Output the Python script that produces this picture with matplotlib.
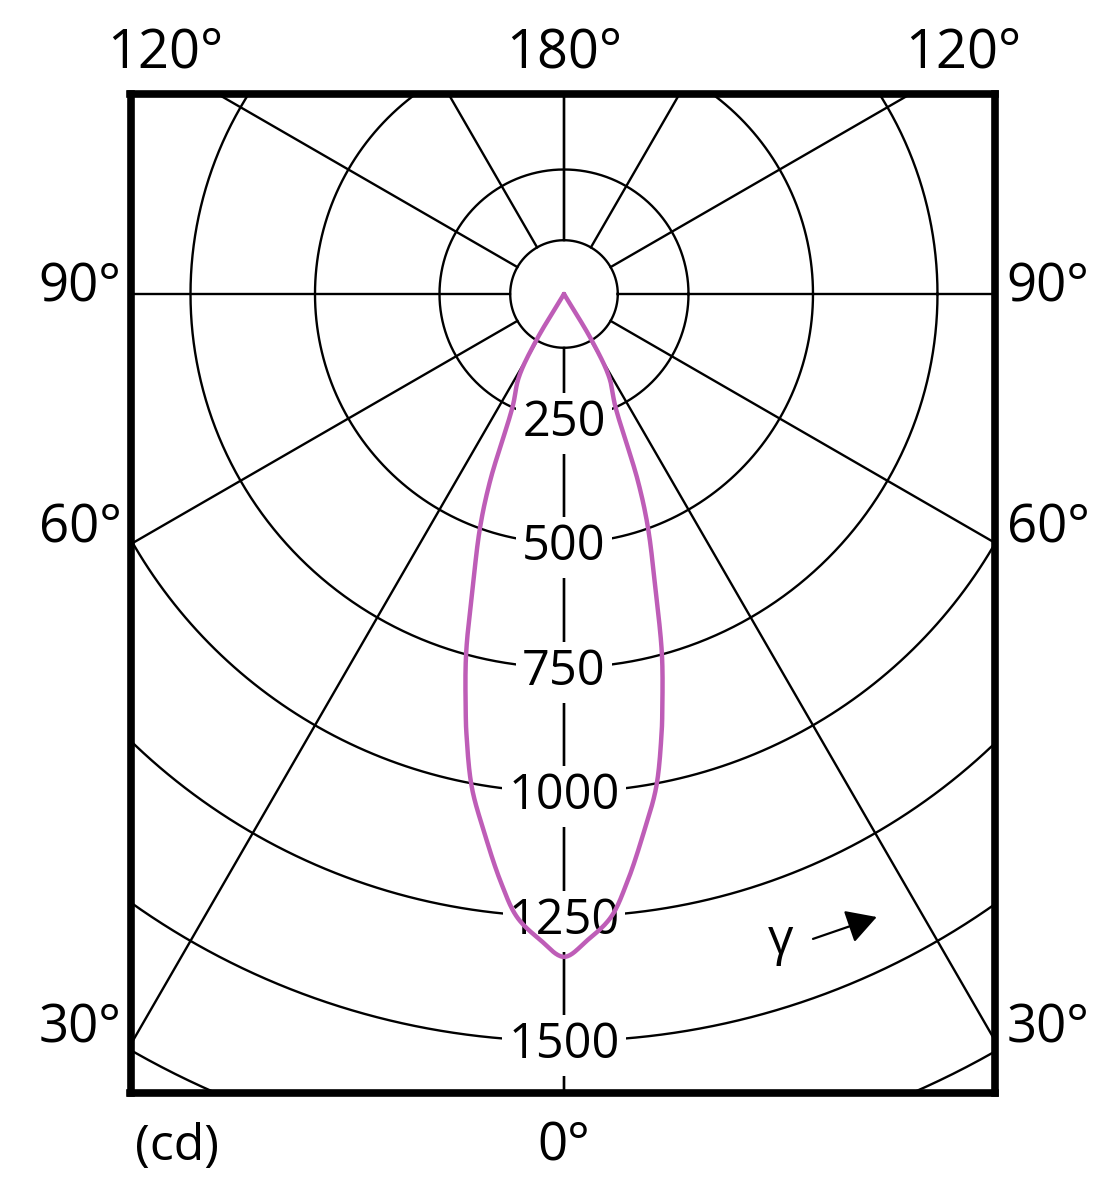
import numpy as np
import matplotlib.pyplot as plt

# luminous intensity distribution (symmetric lobe), gamma in degrees, intensity in cd
gamma_deg = [0, 2.1, 4.3, 6.1, 8.4, 10.6, 12.5, 13.3, 15.2, 17.3, 19.8, 21.6, 24.5, 28.5, 30.9, 32.0]
intensity_cd = [1331, 1298, 1255, 1189, 1094, 1007, 905, 858, 750, 616, 497, 402, 249, 190, 108, 0]

ring_values = [250, 500, 750, 1000, 1250, 1500, 1750]
ring_labels = ["250", "500", "750", "1000", "1250", "1500"]
spoke_angles = [0, 30, 60, 90, 120, 150, 180]
hub_radius = 108

side_labels = ["90°", "60°", "30°"]
side_label_y = [-16, -498, -1502]
top_labels = ["120°", "180°", "120°"]
top_label_x = [-801, 0, 801]

font = ["Open Sans", "DejaVu Sans"]
grid_kw = dict(color="black", lw=1.7, zorder=1)


def smooth(pts, n=20, alpha=0.5):
    # centripetal catmull-rom through the read points, ends kept as they are
    p = np.vstack([2 * pts[0] - pts[1], pts, 2 * pts[-1] - pts[-2]])
    out = []
    for k in range(1, len(p) - 2):
        p0, p1, p2, p3 = p[k - 1], p[k], p[k + 1], p[k + 2]
        t0 = 0.0
        t1 = t0 + np.linalg.norm(p1 - p0) ** alpha
        t2 = t1 + np.linalg.norm(p2 - p1) ** alpha
        t3 = t2 + np.linalg.norm(p3 - p2) ** alpha
        t = np.linspace(t1, t2, n, endpoint=False)[:, None]
        a1 = (t1 - t) / (t1 - t0) * p0 + (t - t0) / (t1 - t0) * p1
        a2 = (t2 - t) / (t2 - t1) * p1 + (t - t1) / (t2 - t1) * p2
        a3 = (t3 - t) / (t3 - t2) * p2 + (t - t2) / (t3 - t2) * p3
        b1 = (t2 - t) / (t2 - t0) * a1 + (t - t0) / (t2 - t0) * a2
        b2 = (t3 - t) / (t3 - t1) * a2 + (t - t1) / (t3 - t1) * a3
        out.append((t2 - t) / (t2 - t1) * b1 + (t - t1) / (t2 - t1) * b2)
    out.append(pts[-1][None])
    return np.vstack(out)


fig = plt.figure(figsize=(11.15, 12), dpi=100)
ax = fig.add_axes([130.5 / 1115, 107.5 / 1200, 864.5 / 1115, 999 / 1200])
ax.set_xlim(-870.5, 865.5)
ax.set_ylim(-1603.4, 402.6)
ax.set_xticks([])
ax.set_yticks([])
for sp in ax.spines.values():
    sp.set_linewidth(5.5)
    sp.set_zorder(10)

# rings
t = np.linspace(0, 2 * np.pi, 721)
for r in [hub_radius] + ring_values:
    ax.plot(r * np.cos(t), r * np.sin(t), **grid_kw)

# spokes, gamma measured from the downward axis
for a in spoke_angles:
    for s in (-1, 1):
        g = np.radians(a) * s
        rr = np.array([hub_radius, 2500])
        ax.plot(rr * np.sin(g), -rr * np.cos(g), **grid_kw)

# intensity labels along the 0 deg axis
for r, lab in zip(ring_values, ring_labels):
    ax.text(0, -r - 35, lab, ha="center", va="baseline", fontsize=35, family=font,
            zorder=4, bbox=dict(boxstyle="square,pad=0.12", fc="white", ec="none"))

# the curve (mirrored for the other half plane)
g = np.radians(np.array(gamma_deg))
i = np.array(intensity_cd, dtype=float)
g_all = np.concatenate([-g[::-1], g[1:]])
i_all = np.concatenate([i[::-1], i[1:]])
xy = smooth(np.column_stack([i_all * np.sin(g_all), -i_all * np.cos(g_all)]))
ax.plot(xy[:, 0], xy[:, 1], color="#be5db7", lw=3.2,
        solid_joinstyle="round", solid_capstyle="round", zorder=5)

# angle labels around the frame
for lab, y in zip(side_labels, side_label_y):
    ax.text(-972, y, lab, ha="center", va="baseline", fontsize=38, family=font, clip_on=False)
    ax.text(972, y, lab, ha="center", va="baseline", fontsize=38, family=font, clip_on=False)
for lab, x in zip(top_labels, top_label_x):
    ax.text(x, 454, lab, ha="center", va="baseline", fontsize=39, family=font, clip_on=False)
ax.text(0, -1739, "0°", ha="center", va="baseline", fontsize=38, family=font, clip_on=False)
ax.text(-778, -1739, "(cd)", ha="center", va="baseline", fontsize=36, family=font, clip_on=False)

# gamma direction marker
ax.text(434, -1299, "γ", ha="center", va="center", fontsize=36, family=font)
ax.annotate("", xy=(628, -1251), xytext=(500, -1295),
            arrowprops=dict(arrowstyle="-|>,head_length=0.53,head_width=0.3",
                            mutation_scale=35, lw=1.6, color="black", shrinkA=0, shrinkB=0))

fig.savefig("out.png", dpi=100, facecolor="white")
